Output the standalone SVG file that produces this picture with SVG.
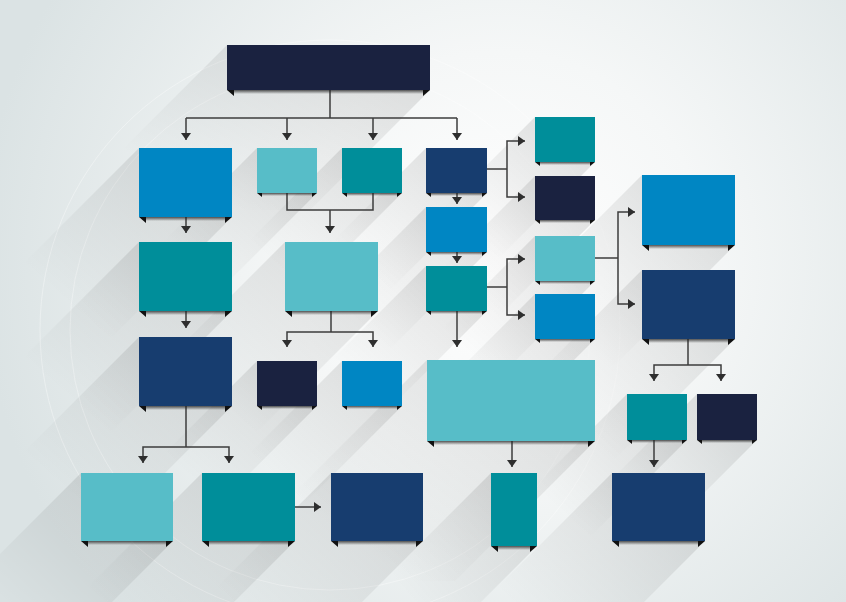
<svg xmlns="http://www.w3.org/2000/svg" width="846" height="602" viewBox="0 0 846 602">
<defs>
<radialGradient id="bg" cx="500" cy="260" r="520" gradientUnits="userSpaceOnUse">
<stop offset="0" stop-color="#ffffff"/>
<stop offset="0.4" stop-color="#f5f7f7"/>
<stop offset="1" stop-color="#dbe3e4"/>
</radialGradient>
<linearGradient id="sh" x1="1" y1="0" x2="0" y2="1">
<stop offset="0" stop-color="#000" stop-opacity="0.13"/>
<stop offset="0.35" stop-color="#000" stop-opacity="0.07"/>
<stop offset="0.8" stop-color="#000" stop-opacity="0"/>
</linearGradient>
<linearGradient id="fold" x1="0" y1="0" x2="0" y2="1">
<stop offset="0" stop-color="#222" stop-opacity="0.75"/>
<stop offset="1" stop-color="#222" stop-opacity="0"/>
</linearGradient>
<marker id="ar" markerUnits="userSpaceOnUse" markerWidth="11" markerHeight="11" refX="7" refY="5" orient="auto">
<path d="M0,0 L7,5 L0,10 z" fill="#2e2e2e"/>
</marker>
<style>
.dk{fill:#1a2240}.nv{fill:#173d6f}.bl{fill:#0086c3}.tl{fill:#008e9a}.lt{fill:#57bdc8}
.tab{fill:#111}
.fd{fill:url(#fold)}
.shd{fill:url(#sh)}
.con path{fill:none;stroke:#3c3c3c;stroke-width:1.5}
.con .a{marker-end:url(#ar)}
</style>
</defs>
<rect width="846" height="602" fill="url(#bg)"/>
<g fill="none" stroke="#ffffff" stroke-opacity="0.35" stroke-width="1">
<circle cx="330" cy="330" r="260"/>
<circle cx="330" cy="330" r="290"/>
</g>
<g id="shadows">
<polygon class="shd" points="227,45 107,165 107,210 310,210 430,90 430,45"/>
<polygon class="shd" points="139,148 19,268 19,337 112,337 232,217 232,148"/>
<polygon class="shd" points="257,148 157,248 157,293 217,293 317,193 317,148"/>
<polygon class="shd" points="342,148 242,248 242,293 302,293 402,193 402,148"/>
<polygon class="shd" points="426,148 326,248 326,293 387,293 487,193 487,148"/>
<polygon class="shd" points="139,242 19,362 19,431 112,431 232,311 232,242"/>
<polygon class="shd" points="285,242 165,362 165,431 258,431 378,311 378,242"/>
<polygon class="shd" points="426,207 326,307 326,352 387,352 487,252 487,207"/>
<polygon class="shd" points="426,266 326,366 326,411 387,411 487,311 487,266"/>
<polygon class="shd" points="535,117 435,217 435,262 495,262 595,162 595,117"/>
<polygon class="shd" points="535,176 435,276 435,320 495,320 595,220 595,176"/>
<polygon class="shd" points="535,236 435,336 435,381 495,381 595,281 595,236"/>
<polygon class="shd" points="535,294 435,394 435,439 495,439 595,339 595,294"/>
<polygon class="shd" points="642,175 522,295 522,365 615,365 735,245 735,175"/>
<polygon class="shd" points="642,270 522,390 522,459 615,459 735,339 735,270"/>
<polygon class="shd" points="139,337 19,457 19,526 112,526 232,406 232,337"/>
<polygon class="shd" points="257,361 157,461 157,506 217,506 317,406 317,361"/>
<polygon class="shd" points="342,361 242,461 242,506 302,506 402,406 402,361"/>
<polygon class="shd" points="427,360 287,500 287,581 455,581 595,441 595,360"/>
<polygon class="shd" points="627,394 527,494 527,540 587,540 687,440 687,394"/>
<polygon class="shd" points="697,394 597,494 597,540 657,540 757,440 757,394"/>
<polygon class="shd" points="81,473 -39,593 -39,661 53,661 173,541 173,473"/>
<polygon class="shd" points="202,473 82,593 82,661 175,661 295,541 295,473"/>
<polygon class="shd" points="331,473 211,593 211,661 303,661 423,541 423,473"/>
<polygon class="shd" points="491,473 391,573 391,646 437,646 537,546 537,473"/>
<polygon class="shd" points="612,473 492,593 492,661 585,661 705,541 705,473"/>
</g>
<g id="connectors" class="con">
<path d="M330,90 V118"/>
<path d="M186,118 H457"/>
<path class="a" d="M186,118 V140"/>
<path class="a" d="M287,118 V140"/>
<path class="a" d="M373,118 V140"/>
<path class="a" d="M457,118 V140"/>
<path class="a" d="M186,217 V233"/>
<path d="M287,193 V210 H373 V193"/>
<path class="a" d="M330,210 V233"/>
<path class="a" d="M457,193 V204"/>
<path class="a" d="M457,252 V263"/>
<path class="a" d="M457,311 V347"/>
<path d="M487,169 H507"/>
<path class="a" d="M507,169 V141 H525"/>
<path class="a" d="M507,169 V197 H525"/>
<path d="M487,287 H507"/>
<path class="a" d="M507,287 V259 H525"/>
<path class="a" d="M507,287 V315 H525"/>
<path d="M595,258 H618"/>
<path class="a" d="M618,258 V212 H635"/>
<path class="a" d="M618,258 V304 H635"/>
<path class="a" d="M186,311 V328"/>
<path d="M331,311 V332"/>
<path class="a" d="M331,332 H287 V347"/>
<path class="a" d="M331,332 H373 V347"/>
<path d="M688,339 V365"/>
<path class="a" d="M688,365 H654 V381"/>
<path class="a" d="M688,365 H721 V381"/>
<path d="M186,406 V447"/>
<path class="a" d="M186,447 H143 V463"/>
<path class="a" d="M186,447 H229 V463"/>
<path class="a" d="M295,507 H321"/>
<path class="a" d="M512,441 V467"/>
<path class="a" d="M654,440 V467"/>
</g>
<g id="n-top"><rect class="dk" x="227" y="45" width="203" height="45"/><rect class="fd" x="233" y="90" width="191" height="4"/><path class="tab" d="M227,90 h7 v6 z M430,90 h-7 v6 z"/></g>
<g id="n-a"><rect class="bl" x="139" y="148" width="93" height="69"/><rect class="fd" x="145" y="217" width="81" height="4"/><path class="tab" d="M139,217 h7 v6 z M232,217 h-7 v6 z"/></g>
<g id="n-b"><rect class="lt" x="257" y="148" width="60" height="45"/><rect class="fd" x="262" y="193" width="50" height="3"/><path class="tab" d="M257,193 h5 v4 z M317,193 h-5 v4 z"/></g>
<g id="n-c"><rect class="tl" x="342" y="148" width="60" height="45"/><rect class="fd" x="347" y="193" width="50" height="3"/><path class="tab" d="M342,193 h5 v4 z M402,193 h-5 v4 z"/></g>
<g id="n-d"><rect class="nv" x="426" y="148" width="61" height="45"/><rect class="fd" x="431" y="193" width="51" height="3"/><path class="tab" d="M426,193 h5 v4 z M487,193 h-5 v4 z"/></g>
<g id="n-e"><rect class="tl" x="139" y="242" width="93" height="69"/><rect class="fd" x="145" y="311" width="81" height="4"/><path class="tab" d="M139,311 h7 v6 z M232,311 h-7 v6 z"/></g>
<g id="n-f"><rect class="lt" x="285" y="242" width="93" height="69"/><rect class="fd" x="291" y="311" width="81" height="4"/><path class="tab" d="M285,311 h7 v6 z M378,311 h-7 v6 z"/></g>
<g id="n-g"><rect class="bl" x="426" y="207" width="61" height="45"/><rect class="fd" x="431" y="252" width="51" height="3"/><path class="tab" d="M426,252 h5 v4 z M487,252 h-5 v4 z"/></g>
<g id="n-h"><rect class="tl" x="426" y="266" width="61" height="45"/><rect class="fd" x="431" y="311" width="51" height="3"/><path class="tab" d="M426,311 h5 v4 z M487,311 h-5 v4 z"/></g>
<g id="n-i"><rect class="tl" x="535" y="117" width="60" height="45"/><rect class="fd" x="540" y="162" width="50" height="3"/><path class="tab" d="M535,162 h5 v4 z M595,162 h-5 v4 z"/></g>
<g id="n-j"><rect class="dk" x="535" y="176" width="60" height="44"/><rect class="fd" x="540" y="220" width="50" height="3"/><path class="tab" d="M535,220 h5 v4 z M595,220 h-5 v4 z"/></g>
<g id="n-k"><rect class="lt" x="535" y="236" width="60" height="45"/><rect class="fd" x="540" y="281" width="50" height="3"/><path class="tab" d="M535,281 h5 v4 z M595,281 h-5 v4 z"/></g>
<g id="n-l"><rect class="bl" x="535" y="294" width="60" height="45"/><rect class="fd" x="540" y="339" width="50" height="3"/><path class="tab" d="M535,339 h5 v4 z M595,339 h-5 v4 z"/></g>
<g id="n-m"><rect class="bl" x="642" y="175" width="93" height="70"/><rect class="fd" x="648" y="245" width="81" height="4"/><path class="tab" d="M642,245 h7 v6 z M735,245 h-7 v6 z"/></g>
<g id="n-n"><rect class="nv" x="642" y="270" width="93" height="69"/><rect class="fd" x="648" y="339" width="81" height="4"/><path class="tab" d="M642,339 h7 v6 z M735,339 h-7 v6 z"/></g>
<g id="n-o"><rect class="nv" x="139" y="337" width="93" height="69"/><rect class="fd" x="145" y="406" width="81" height="4"/><path class="tab" d="M139,406 h7 v6 z M232,406 h-7 v6 z"/></g>
<g id="n-p"><rect class="dk" x="257" y="361" width="60" height="45"/><rect class="fd" x="262" y="406" width="50" height="3"/><path class="tab" d="M257,406 h5 v4 z M317,406 h-5 v4 z"/></g>
<g id="n-q"><rect class="bl" x="342" y="361" width="60" height="45"/><rect class="fd" x="347" y="406" width="50" height="3"/><path class="tab" d="M342,406 h5 v4 z M402,406 h-5 v4 z"/></g>
<g id="n-r"><rect class="lt" x="427" y="360" width="168" height="81"/><rect class="fd" x="433" y="441" width="156" height="4"/><path class="tab" d="M427,441 h7 v6 z M595,441 h-7 v6 z"/></g>
<g id="n-s"><rect class="tl" x="627" y="394" width="60" height="46"/><rect class="fd" x="632" y="440" width="50" height="3"/><path class="tab" d="M627,440 h5 v4 z M687,440 h-5 v4 z"/></g>
<g id="n-t"><rect class="dk" x="697" y="394" width="60" height="46"/><rect class="fd" x="702" y="440" width="50" height="3"/><path class="tab" d="M697,440 h5 v4 z M757,440 h-5 v4 z"/></g>
<g id="n-u"><rect class="lt" x="81" y="473" width="92" height="68"/><rect class="fd" x="87" y="541" width="80" height="4"/><path class="tab" d="M81,541 h7 v6 z M173,541 h-7 v6 z"/></g>
<g id="n-v"><rect class="tl" x="202" y="473" width="93" height="68"/><rect class="fd" x="208" y="541" width="81" height="4"/><path class="tab" d="M202,541 h7 v6 z M295,541 h-7 v6 z"/></g>
<g id="n-w"><rect class="nv" x="331" y="473" width="92" height="68"/><rect class="fd" x="337" y="541" width="80" height="4"/><path class="tab" d="M331,541 h7 v6 z M423,541 h-7 v6 z"/></g>
<g id="n-x"><rect class="tl" x="491" y="473" width="46" height="73"/><rect class="fd" x="497" y="546" width="34" height="4"/><path class="tab" d="M491,546 h7 v6 z M537,546 h-7 v6 z"/></g>
<g id="n-y"><rect class="nv" x="612" y="473" width="93" height="68"/><rect class="fd" x="618" y="541" width="81" height="4"/><path class="tab" d="M612,541 h7 v6 z M705,541 h-7 v6 z"/></g>
</svg>
